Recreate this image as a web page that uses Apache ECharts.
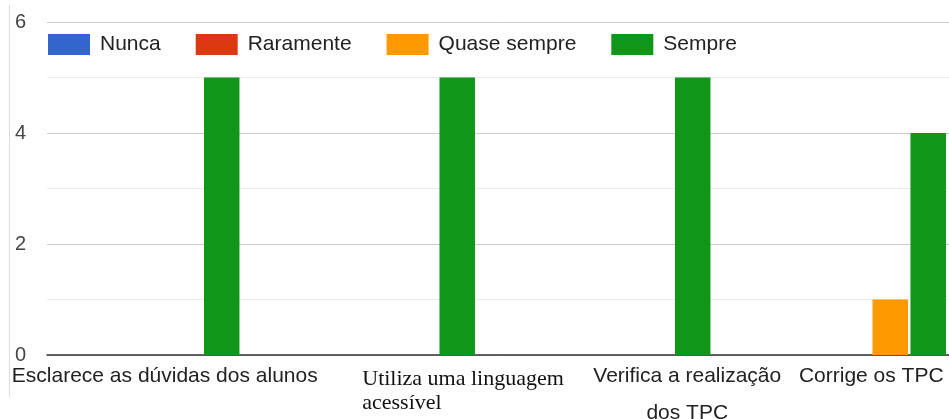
<!DOCTYPE html>
<html>
<head>
<meta charset="utf-8">
<script src="https://cdn.jsdelivr.net/npm/echarts@6/dist/echarts.min.js"></script>
<style>
  html, body { margin: 0; padding: 0; background: #ffffff; }
  #chart { width: 949px; height: 419px; }
</style>
</head>
<body>
<div id="chart"></div>
<script>
// Categories (teacher behaviours) and answer counts per frequency level
const categories = [
  'Esclarece as dúvidas dos alunos',
  'Utiliza uma linguagem\nacessível',
  'Verifica a realização\ndos TPC',
  'Corrige os TPC'
];
const seriesNames = ['Nunca', 'Raramente', 'Quase sempre', 'Sempre'];
const nunca = [0, 0, 0, 0];
const raramente = [0, 0, 0, 0];
const quaseSempre = [0, 0, 0, 1];
const sempre = [5, 5, 5, 4];
const yTicks = [0, 2, 4, 6];

const colors = ['#3366cc', '#dc3912', '#ff9900', '#109618'];
const sans = '"Liberation Sans", Arial, sans-serif';
const serif = '"Liberation Serif", "Times New Roman", serif';

// Per-category label styling (the second label is set in a serif face)
const labelStyles = [
  { fontFamily: sans, fontSize: 21, lineHeight: 37 },
  { fontFamily: serif, fontSize: 22, lineHeight: 24, align: 'left', padding: [9, 0, 0, -38], color: '#111' },
  { fontFamily: sans, fontSize: 21, lineHeight: 37, padding: [0, 0, 0, 103] },
  { fontFamily: sans, fontSize: 21, lineHeight: 37 }
];

const chart = echarts.init(document.getElementById('chart'), null, { renderer: 'canvas' });

const values = [nunca, raramente, quaseSempre, sempre];

chart.setOption({
  animation: false,
  color: colors,
  graphic: [{
    type: 'rect',
    shape: { x: 9, y: 5, width: 1, height: 392 },
    style: { fill: '#dddddd' },
    silent: true
  }],
  legend: {
    left: 48,
    top: 34,
    padding: 0,
    icon: 'rect',
    itemWidth: 42,
    itemHeight: 21,
    itemGap: 35,
    data: seriesNames,
    textStyle: { fontFamily: sans, fontSize: 21, color: '#222', padding: [0, 0, 0, 5] }
  },
  grid: {
    left: 47,
    right: -40,
    top: 22,
    bottom: 64,
    containLabel: false,
    outerBoundsMode: 'none'
  },
  xAxis: {
    type: 'category',
    data: categories.map((c, i) => ({ value: c, textStyle: labelStyles[i] })),
    axisLine: { show: true, lineStyle: { color: '#333', width: 1.5 } },
    axisTick: { show: false },
    axisLabel: {
      interval: 0,
      margin: 3,
      fontSize: 21,
      color: '#222',
      hideOverlap: false
    },
    splitLine: { show: false }
  },
  yAxis: {
    type: 'value',
    min: yTicks[0],
    max: yTicks[yTicks.length - 1],
    interval: yTicks[1] - yTicks[0],
    axisLine: { show: false },
    axisTick: { show: false },
    axisLabel: { fontFamily: sans, fontSize: 20, color: '#444', margin: 21 },
    splitLine: { show: true, lineStyle: { color: '#cccccc', width: 1 } },
    minorTick: { show: false, splitNumber: 2 },
    minorSplitLine: { show: true, lineStyle: { color: '#ebebeb', width: 1 } }
  },
  series: seriesNames.map((name, i) => ({
    name: name,
    type: 'bar',
    data: values[i],
    barWidth: 35.5,
    barGap: '7%',
    itemStyle: { color: colors[i] }
  }))
});
</script>
</body>
</html>
